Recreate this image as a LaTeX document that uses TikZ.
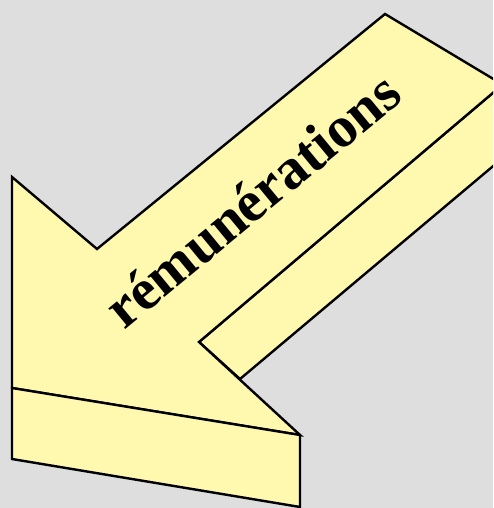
\documentclass[tikz,border=0pt]{standalone}
\usepackage{fontspec}
\setmainfont{Liberation Serif}
\usepackage{xcolor}
\usepackage{tikz}
\usetikzlibrary{positioning}
\definecolor{bggray}{HTML}{DEDEDE}
\definecolor{arrowyellow}{HTML}{FFF9B0}

\begin{document}
\begin{tikzpicture}[
    x=1pt, y=-1pt,
    face/.style={draw=black, line width=2.4pt, line join=miter, fill=arrowyellow},
    label/.style={inner sep=0pt, rotate=39.5, font=\bfseries\fontsize{58}{58}\selectfont}
]

\fill[bggray] (0,0) rectangle (493,508);
\useasboundingbox (0,0) rectangle (493,508);
\clip (0,0) rectangle (493,508);

% corners of the arrow
\coordinate (backtop) at (12,177);
\coordinate (notch) at (97,249);
\coordinate (shafttop) at (385,14);
\coordinate (shaftend) at (540,107);
\coordinate (shaftin) at (560,36);
\coordinate (inner) at (199,342);
\coordinate (tip) at (300,435);
\coordinate (fronttop) at (12,388);
\coordinate (frontbot) at (12,459);
\coordinate (tipbot) at (300,507);
\coordinate (sidebot) at (240,379);
\coordinate (sideend) at (580,93);

% side of the shaft
\draw[face] (sidebot) -- (sideend) -- (shaftin) -- (inner) -- cycle;
% top face
\draw[face] (backtop) -- (notch) -- (shafttop) -- (shaftend) -- (shaftin) -- (inner) -- (tip) -- (fronttop) -- cycle;
% front face
\draw[face] (fronttop) -- (tip) -- (tipbot) -- (frontbot) -- cycle;

\node[label, anchor=base west] (word) at (124,331) {rémunérations};

\end{tikzpicture}
\end{document}
